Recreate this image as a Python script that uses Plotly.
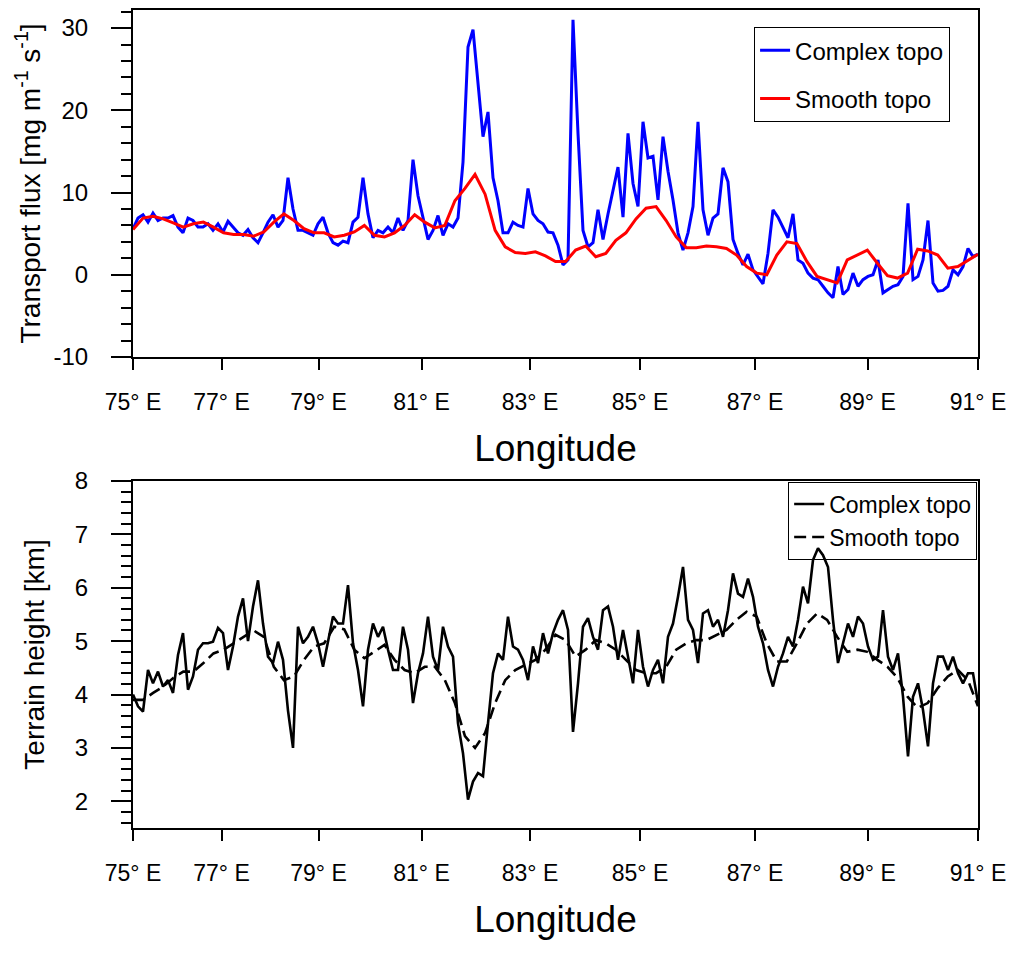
import numpy as np
import plotly.graph_objects as go

# grid points along the cross-section (x is the point index, not degrees)
n_points = 170
grid_index = np.arange(n_points)
smooth_index = np.linspace(0, n_points - 1, 85)

# where the labelled meridians cross the section (in grid index units)
lon_tick_pos = [0, 17.7, 37.1, 57.7, 79.4, 101.4, 124.4, 146.9, 169]
lon_tick_text = ["75° E", "77° E", "79° E", "81° E", "83° E", "85° E", "87° E", "89° E", "91° E"]

flux_ticks = [-10, 0, 10, 20, 30]
flux_tick_text = ["-10", "0", "10", "20", "30"]

# transport flux [mg m-1 s-1]
flux_complex = [
    5.6, 6.9, 7.3, 6.4, 7.5, 6.6, 6.9, 6.9, 7.2, 5.8,
    5.1, 6.9, 6.6, 5.8, 5.8, 6.2, 5.4, 6.2, 5.2, 6.5,
    5.8, 5.1, 4.8, 5.5, 4.5, 3.9, 5.1, 6.4, 7.3, 5.8,
    6.6, 11.8, 8.0, 5.4, 5.4, 5.1, 4.8, 6.2, 7.0, 5.1,
    3.9, 3.6, 4.1, 3.9, 6.4, 7.0, 11.8, 7.4, 4.5, 5.4,
    5.1, 5.8, 5.1, 6.9, 5.4, 6.6, 14.0, 9.6, 7.0, 4.3,
    5.4, 7.2, 4.8, 6.2, 5.8, 6.9, 13.7, 27.7, 29.8, 23.3,
    16.8, 19.8, 11.8, 9.0, 5.1, 5.1, 6.4, 6.0, 5.8, 10.5,
    7.4, 6.6, 6.2, 5.2, 5.1, 3.6, 1.2, 1.8, 31.0, 17.2,
    5.4, 3.4, 3.9, 7.9, 4.3, 7.4, 10.3, 13.1, 7.0, 17.2,
    11.1, 8.3, 18.6, 14.2, 14.4, 9.1, 16.8, 12.6, 9.1, 5.1,
    3.0, 5.1, 8.3, 18.6, 7.9, 4.8, 6.9, 7.4, 13.0, 11.3,
    4.3, 2.6, 1.2, 2.5, 0.6, -0.3, -1.1, 2.6, 7.9, 7.0,
    5.8, 4.5, 7.4, 1.8, 1.4, 0.2, -0.4, -0.6, -1.4, -2.2,
    -2.8, 1.0, -2.4, -1.8, 0.2, -1.4, -0.6, -0.2, 0.0, 1.8,
    -2.2, -1.8, -1.4, -1.2, -0.2, 8.7, -0.6, -0.2, 1.8, 6.6,
    -1.0, -2.0, -1.9, -1.4, 0.6, 0.0, 1.0, 3.2, 2.2, 2.5,
]
flux_smooth = [
    5.5, 6.9, 7.1, 6.8, 6.3, 5.8, 6.2, 6.4, 5.8, 5.1,
    4.9, 4.9, 4.7, 5.2, 6.4, 7.4, 6.6, 5.6, 5.1, 5.1,
    4.6, 4.8, 5.2, 6.0, 4.8, 4.6, 5.1, 6.0, 7.3, 6.4,
    5.7, 6.0, 9.0, 10.5, 12.2, 9.8, 5.4, 3.4, 2.7, 2.6,
    2.8, 2.3, 1.6, 1.6, 3.0, 3.5, 2.2, 2.6, 4.2, 5.1,
    6.8, 8.1, 8.3, 6.6, 4.6, 3.3, 3.3, 3.5, 3.4, 3.2,
    2.4, 1.0, 0.2, 0.0, 2.4, 4.0, 3.8, 1.6, -0.2, -0.6,
    -1.0, 1.8, 2.4, 3.0, 1.4, -0.1, -0.4, 0.2, 3.1, 2.9,
    2.4, 0.8, 1.0, 1.8, 2.5,
]

# terrain height [km]
terrain_complex = [
    4.0, 3.78, 3.68, 4.46, 4.21, 4.43, 4.15, 4.27, 4.03, 4.74,
    5.15, 4.09, 4.34, 4.84, 4.96, 4.96, 4.99, 5.25, 5.15, 4.46,
    4.9, 5.46, 5.8, 5.0, 5.65, 6.14, 5.33, 4.71, 4.59, 4.99,
    4.65, 3.7, 3.0, 5.27, 4.96, 5.08, 5.27, 4.96, 4.52, 4.96,
    5.46, 5.33, 5.33, 6.05, 4.96, 4.46, 3.78, 4.84, 5.33, 5.08,
    5.27, 4.84, 4.46, 4.46, 5.27, 4.84, 3.84, 4.4, 4.77, 5.46,
    4.71, 4.46, 5.27, 4.9, 4.71, 3.46, 2.9, 2.03, 2.37, 2.53,
    2.47, 3.46, 4.4, 4.77, 4.65, 5.46, 4.9, 4.84, 4.65, 4.27,
    4.9, 4.59, 5.15, 4.77, 5.15, 5.4, 5.58, 5.21, 3.3, 4.21,
    5.27, 5.43, 5.08, 4.84, 5.58, 5.65, 5.27, 4.65, 5.21, 4.71,
    4.21, 5.21, 4.52, 4.15, 4.46, 4.65, 4.21, 5.08, 5.33, 5.83,
    6.39, 5.4, 5.21, 4.59, 5.52, 5.58, 5.27, 5.4, 5.08, 5.58,
    6.27, 5.89, 5.83, 6.17, 5.83, 5.27, 4.96, 4.46, 4.15, 4.52,
    4.77, 5.08, 4.9, 5.4, 6.02, 5.71, 6.52, 6.74, 6.61, 6.39,
    5.4, 4.59, 4.96, 5.33, 5.08, 5.46, 5.33, 4.9, 4.65, 4.71,
    5.58, 4.71, 4.46, 4.77, 3.96, 2.84, 3.96, 4.21, 3.71, 3.03,
    4.21, 4.71, 4.71, 4.46, 4.71, 4.4, 4.21, 4.4, 4.4, 3.84,
]
terrain_smooth = [
    3.9, 3.9, 4.03, 4.15, 4.31, 4.43, 4.43, 4.59, 4.77, 4.84,
    4.96, 5.08, 5.2, 5.08, 4.52, 4.27, 4.34, 4.65, 4.9, 4.96,
    5.27, 5.22, 4.84, 4.68, 4.8, 4.93, 4.65, 4.46, 4.4, 4.52,
    4.52, 4.27, 3.84, 3.22, 3.0, 3.28, 3.84, 4.27, 4.46, 4.56,
    4.65, 4.84, 5.12, 5.02, 4.71, 4.84, 5.02, 4.96, 4.84, 4.65,
    4.46, 4.4, 4.4, 4.52, 4.84, 4.96, 5.02, 5.02, 5.12, 5.21,
    5.4, 5.55, 5.46, 4.96, 4.62, 4.62, 4.96, 5.33, 5.52, 5.4,
    5.08, 4.8, 4.84, 4.8, 4.65, 4.52, 4.31, 3.96, 3.75, 3.84,
    4.12, 4.34, 4.46, 4.27, 3.78,
]

font_name = "Liberation Sans"

fig = go.Figure()

fig.add_trace(go.Scatter(x=grid_index, y=flux_complex, mode="lines", name="Complex topo",
                         line=dict(color="#0000ff", width=3), legend="legend", legendgroup="a",
                         xaxis="x", yaxis="y"))
fig.add_trace(go.Scatter(x=smooth_index, y=flux_smooth, mode="lines", name="Smooth topo",
                         line=dict(color="#ff0000", width=3), legend="legend", legendgroup="b",
                         xaxis="x", yaxis="y"))
fig.add_trace(go.Scatter(x=grid_index, y=terrain_complex, mode="lines", name="Complex topo",
                         line=dict(color="black", width=2.6), legend="legend2",
                         xaxis="x2", yaxis="y2"))
fig.add_trace(go.Scatter(x=smooth_index, y=terrain_smooth, mode="lines", name="Smooth topo",
                         line=dict(color="black", width=2.6, dash="12px,6px"), legend="legend2",
                         xaxis="x2", yaxis="y2"))

xaxis_style = dict(
    range=[0, n_points - 1], tickmode="array", tickvals=lon_tick_pos, ticktext=lon_tick_text,
    ticks="outside", ticklen=11, tickwidth=1.5, tickcolor="black",
    showline=True, linecolor="black", linewidth=2, mirror=True,
    showgrid=False, zeroline=False, ticklabelstandoff=12, automargin=False,
    tickfont=dict(family=font_name, size=23, color="black"),
    title=dict(text="Longitude", font=dict(family=font_name, size=37, color="black"), standoff=22),
)
yaxis_style = dict(
    ticks="outside", ticklen=20, tickwidth=1.5, tickcolor="black",
    showline=True, linecolor="black", linewidth=2, mirror=True,
    showgrid=False, zeroline=False, ticklabelstandoff=18, automargin=False,
    tickfont=dict(family=font_name, size=24, color="black"),
)

# the page body adds 8 px around the figure, margins are set with that in mind
fig.update_layout(
    width=1021, height=954,
    margin=dict(l=125, r=51, t=2, b=134),
    paper_bgcolor="white", plot_bgcolor="white",
    font=dict(family=font_name, color="black"),
    xaxis=dict(xaxis_style, domain=[0, 1], anchor="y"),
    xaxis2=dict(xaxis_style, domain=[0, 1], anchor="y2"),
    yaxis=dict(yaxis_style, domain=[0.5758, 1], anchor="x", range=[-10, 32.2],
               tickmode="array", tickvals=flux_ticks, ticktext=flux_tick_text,
               minor=dict(dtick=2, tick0=0, ticks="outside", ticklen=10, tickwidth=1.5, tickcolor="black"),
               title=dict(text="Transport flux [mg m<sup>-1</sup> s<sup>-1</sup>]",
                          font=dict(family=font_name, size=28, color="black"), standoff=5)),
    yaxis2=dict(yaxis_style, domain=[0, 0.4242], anchor="x2", range=[1.5, 8], dtick=1,
                minor=dict(dtick=0.2, ticks="outside", ticklen=10, tickwidth=1.5, tickcolor="black"),
                title=dict(text="Terrain height [km]",
                           font=dict(family=font_name, size=28, color="black"), standoff=22)),
    legend=dict(x=0.735, y=0.979, xanchor="left", yanchor="top",
                bordercolor="black", borderwidth=1, bgcolor="white",
                font=dict(family=font_name, size=24, color="black"),
                tracegroupgap=14, traceorder="grouped"),
    legend2=dict(x=0.999, y=0.4235, xanchor="right", yanchor="top",
                 bordercolor="black", borderwidth=1, bgcolor="rgba(255,255,255,0)",
                 font=dict(family=font_name, size=23, color="black"), tracegroupgap=0),
)

fig.write_html("out.html")
